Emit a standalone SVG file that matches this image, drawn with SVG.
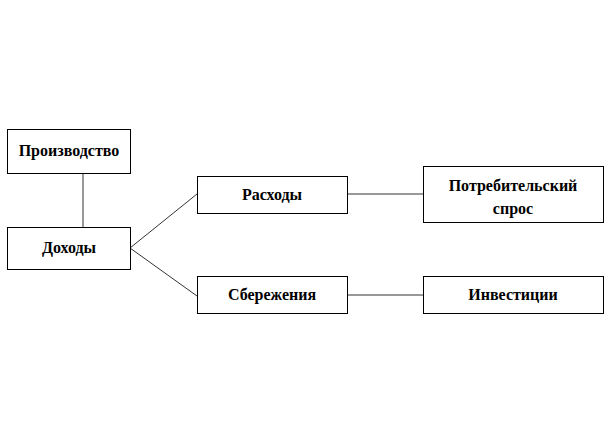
<svg xmlns="http://www.w3.org/2000/svg" width="610" height="445" viewBox="0 0 610 445">
<style>
.box{fill:#fff;stroke:#000;stroke-width:1}
.t{font-family:"Liberation Serif","Times New Roman",serif;font-weight:bold;font-size:16px;fill:#000;text-anchor:middle}
.c{stroke:#333;stroke-width:1;fill:none}
</style>
<rect width="610" height="445" fill="#fff"/>
<g id="connectors">
<line class="c" x1="83" y1="173" x2="83" y2="227"/>
<line class="c" x1="130" y1="248" x2="197" y2="194"/>
<line class="c" x1="130" y1="248" x2="197" y2="296"/>
<line class="c" x1="348" y1="194" x2="423" y2="194"/>
<line class="c" x1="348" y1="295" x2="423" y2="295"/>
</g>
<g id="proizvodstvo">
<rect class="box" x="7.5" y="129.5" width="123" height="44"/>
<text class="t" x="69" y="156">Производство</text>
</g>
<g id="dokhody">
<rect class="box" x="7.5" y="227.5" width="123" height="42"/>
<text class="t" x="69" y="253">Доходы</text>
</g>
<g id="raskhody">
<rect class="box" x="197.5" y="176.5" width="150" height="37"/>
<text class="t" x="272" y="200">Расходы</text>
</g>
<g id="potrebitelsky">
<rect class="box" x="423.5" y="166.5" width="180" height="56"/>
<text class="t" x="513" y="191">Потребительский</text>
<text class="t" x="513" y="214">спрос</text>
</g>
<g id="sberezheniya">
<rect class="box" x="197.5" y="276.5" width="150" height="37"/>
<text class="t" x="272" y="300">Сбережения</text>
</g>
<g id="investitsii">
<rect class="box" x="423.5" y="276.5" width="180" height="37"/>
<text class="t" x="513" y="300">Инвестиции</text>
</g>
</svg>
